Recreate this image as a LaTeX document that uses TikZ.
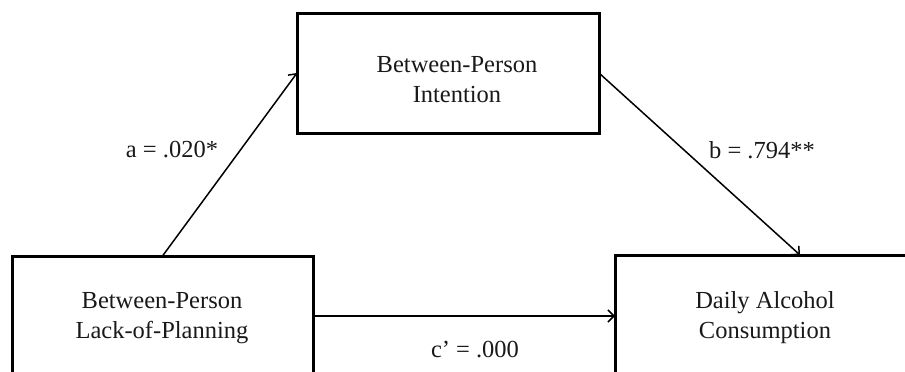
\documentclass[tikz,border=0pt]{standalone}
\usepackage{fontspec}
\setmainfont{Liberation Serif}
\usetikzlibrary{arrows.meta}
\begin{document}
\begin{tikzpicture}[x=1pt,y=-1pt,
  box/.style={draw=black,line width=3pt,inner sep=0pt,outer sep=0pt,fill=none},
  lbl/.style={font=\fontsize{24.5}{30}\selectfont,align=center,inner sep=0pt,text=black!90},
  conn/.style={line width=1.5pt,-{Straight Barb[length=6pt,width=12pt,line width=1.5pt]}}]
\useasboundingbox (0,0) rectangle (905,372);
\clip (0,0) rectangle (905,372);
\node[box,minimum width=302pt,minimum height=120pt] (int) at (448,73) {};
\node[box,minimum width=301pt,minimum height=120pt] (lp) at (162.5,316) {};
\node[box,minimum width=370pt,minimum height=122pt] (dac) at (800,316) {};
\node[lbl] (tint) at (457,80) {Between-Person\\Intention};
\node[lbl] (tlp) at (162,318) {Between-Person\\Lack-of-Planning};
\node[lbl] (tdac) at (765,318) {Daily Alcohol\\Consumption};
\draw[conn] (lp.north) -- (int.west);
\draw[conn] (int.east) -- (dac.north);
\draw[conn] (lp.east) -- (dac.west);
\node[lbl] (la) at (172,150) {a = .020*};
\node[lbl] (lb) at (762,150) {b = .794**};
\node[lbl] (lc) at (475,350) {c’ = .000};
\end{tikzpicture}
\end{document}
